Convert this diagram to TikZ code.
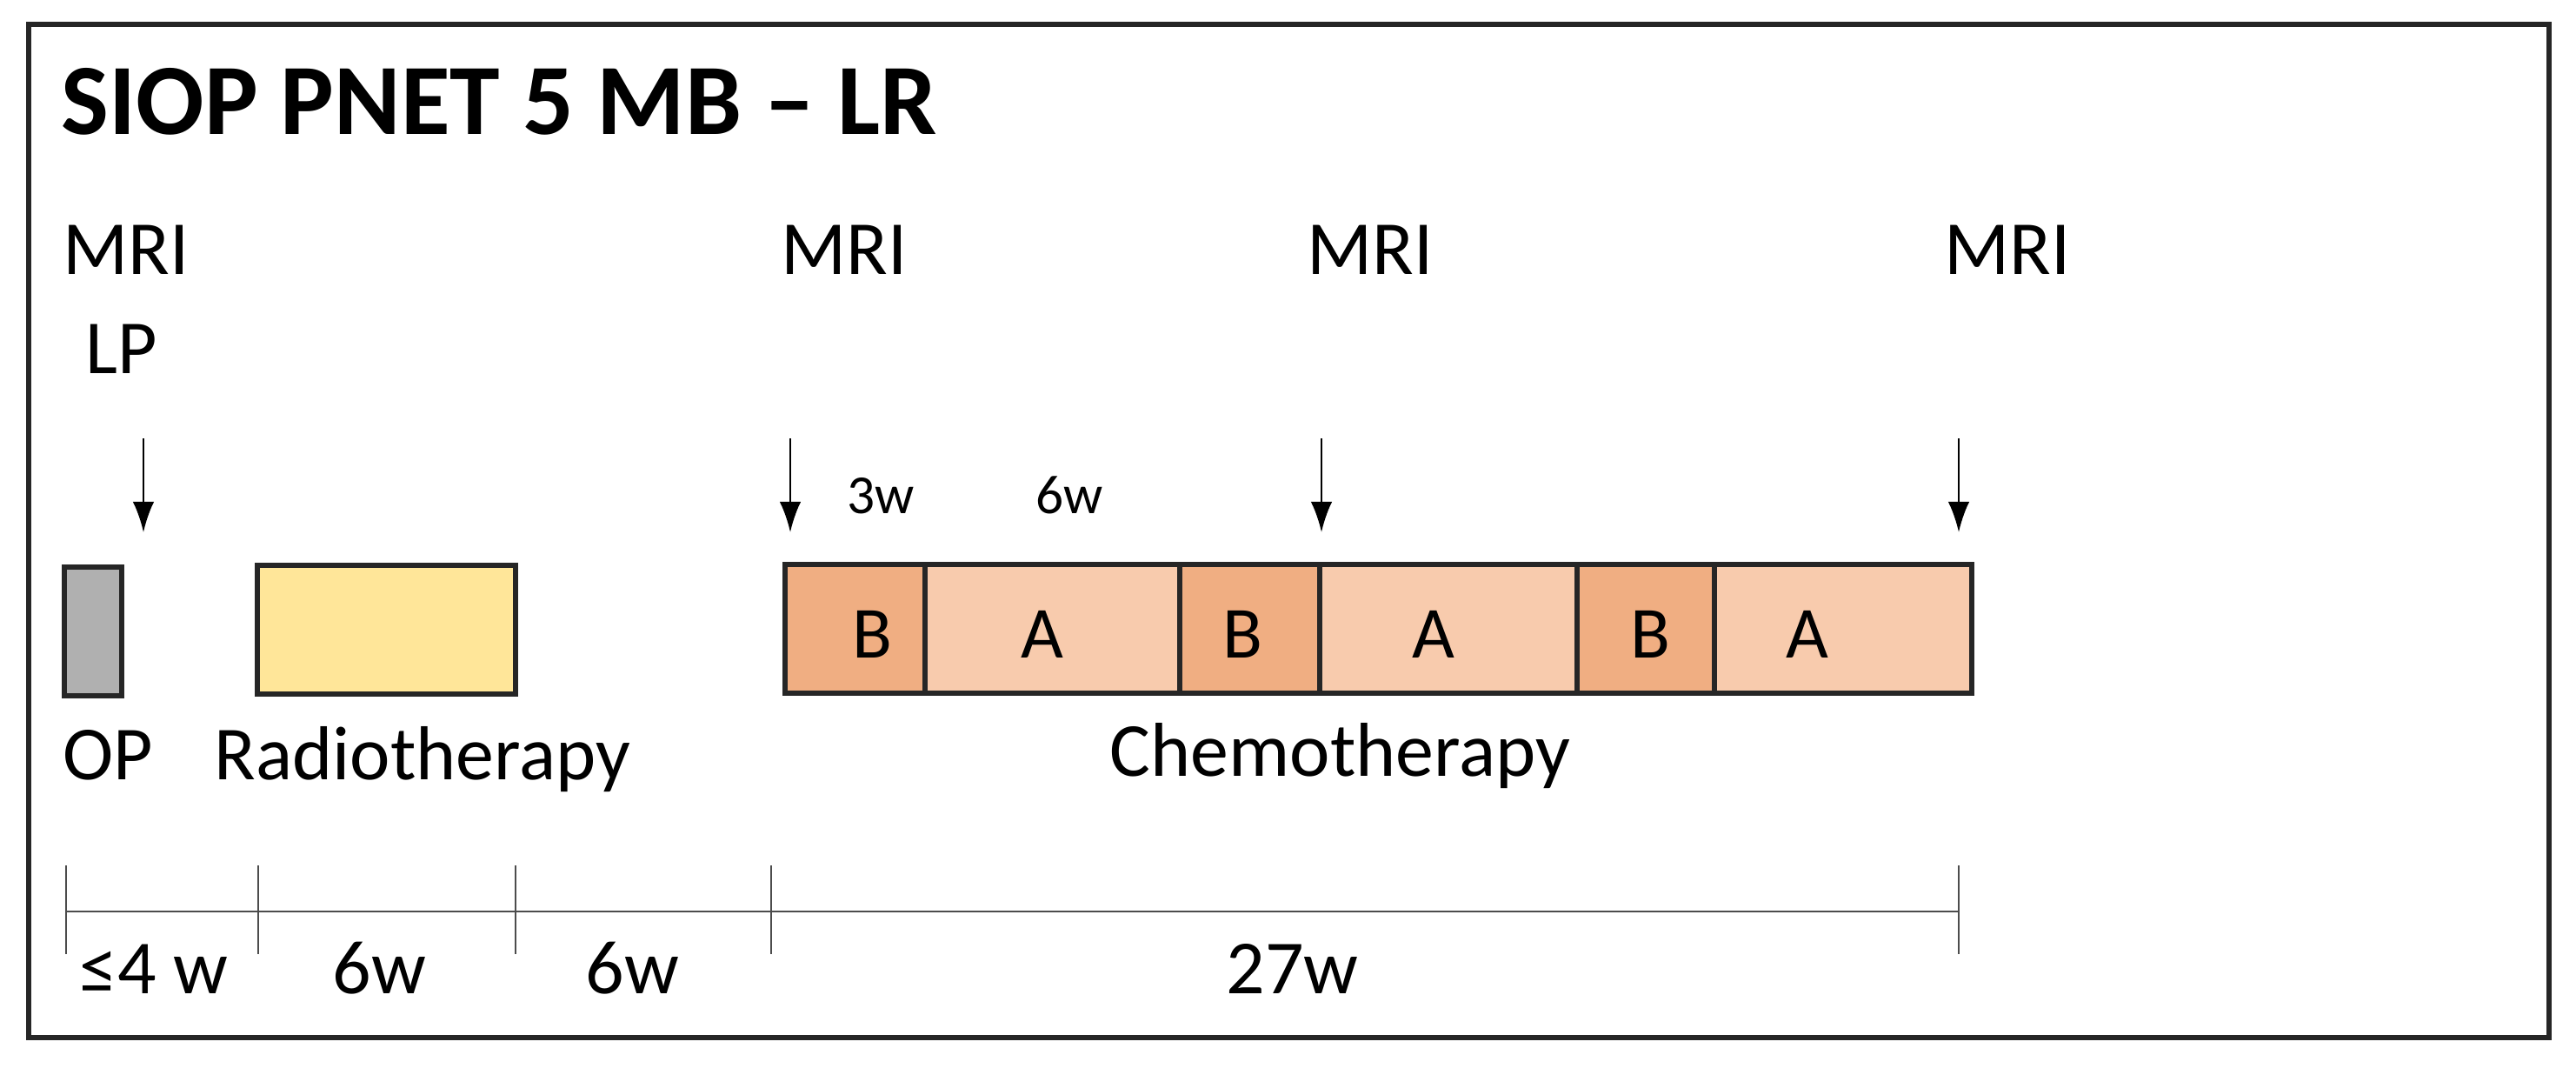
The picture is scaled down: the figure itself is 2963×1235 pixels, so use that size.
\documentclass[tikz,border=0pt]{standalone}
\usepackage{fontspec}
\setmainfont{Carlito}
\usetikzlibrary{arrows.meta}
\begin{document}
\begin{tikzpicture}[x=0.01cm,y=-0.01cm,
  lbl/.style={anchor=base west,inner sep=0pt,font=\fontsize{25}{30}\selectfont},
  sml/.style={anchor=base west,inner sep=0pt,font=\fontsize{18}{22}\selectfont},
  letter/.style={anchor=base,inner sep=0pt,font=\fontsize{24}{28}\selectfont},
  arr/.style={-{Latex[length=10pt,width=7pt]},line width=0.8pt},
  bx/.style={draw=black!85,line width=1.5pt},
  tick/.style={draw=black!70,line width=0.8pt}]
\useasboundingbox (0,0) rectangle (2963,1235);
\draw[line width=1.5pt,draw=black!85] (33,28) rectangle (2932,1193);
\node[anchor=base west,inner sep=0pt,font=\fontsize{33}{40}\selectfont\bfseries] (title) at (70,154) {SIOP PNET 5 MB – LR};
% MRI labels
\node[lbl] (mri1) at (72,315) {MRI};
\node[lbl] (lp) at (98,429) {LP};
\node[lbl] (mri2) at (898,315) {MRI};
\node[lbl] (mri3) at (1503,315) {MRI};
\node[lbl] (mri4) at (2236,315) {MRI};
% arrows
\coordinate (a1s) at (165,504); \coordinate (a1e) at (165,612);
\coordinate (a2s) at (909,504); \coordinate (a2e) at (909,612);
\coordinate (a3s) at (1520,504); \coordinate (a3e) at (1520,612);
\coordinate (a4s) at (2253,504); \coordinate (a4e) at (2253,612);
\foreach \i in {1,2,3,4} \draw[arr] (a\i s) -- (a\i e);
\node[sml] (w3) at (974,590) {3w};
\node[sml] (w6) at (1191,590) {6w};
% boxes
\draw[bx,fill=gray!62] (74,652) rectangle (140,800);
\draw[bx,fill={rgb,255:red,255;green,230;blue,153}] (296,650) rectangle (593,798);
\definecolor{cB}{RGB}{240,174,130}
\definecolor{cA}{RGB}{248,203,173}
\foreach \l/\r/\c/\t in {903/1064/cB/B,1064/1357/cA/A,1357/1518/cB/B,1518/1814/cA/A,1814/1972/cB/B,1972/2268/cA/A}
  \draw[bx,fill=\c] (\l,649) rectangle (\r,797);
\foreach \x/\t in {1003/B,1199/A,1429/B,1649/A,1898/B,2079/A}
  \node[letter] at (\x,756) {\t};
\node[lbl] (op) at (72,896) {OP};
\node[lbl] (rt) at (246,896) {Radiotherapy};
\node[lbl] (ct) at (1276,892) {Chemotherapy};
% timeline
\draw[tick] (76,1048) -- (2253,1048);
\foreach \x in {76,297,593,887,2253} \draw[tick] (\x,995) -- (\x,1097);
\node[lbl] (t1) at (91,1142) {≤4 w};
\node[lbl] (t2) at (382,1142) {6w};
\node[lbl] (t3) at (673,1142) {6w};
\node[lbl] (t4) at (1410,1142) {27w};
\end{tikzpicture}
\end{document}
